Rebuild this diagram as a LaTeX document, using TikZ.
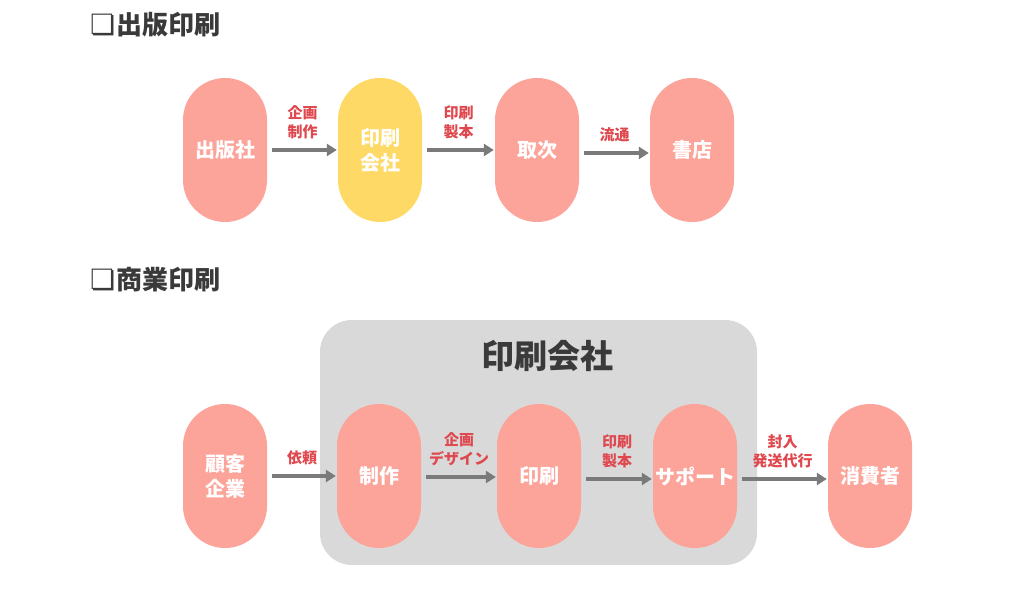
\documentclass[tikz,border=0pt]{standalone}
\usepackage{fontspec}
\setmainfont{Noto Sans CJK JP}
\newfontfamily\symfont{DejaVu Sans}
\usetikzlibrary{arrows.meta}
\definecolor{pillred}{RGB}{252,163,154}
\definecolor{pillyellow}{RGB}{255,217,102}
\definecolor{lblred}{RGB}{222,72,78}
\definecolor{arrgray}{RGB}{122,122,122}
\definecolor{boxgray}{RGB}{217,217,217}
\definecolor{headgray}{RGB}{58,58,58}
\tikzset{
  pill/.style={fill=pillred, draw=none, minimum width=84pt, minimum height=144pt,
    rounded corners=42pt, inner sep=0pt, text=white, align=center,
    font=\fontsize{20}{25}\selectfont\bfseries},
  pilly/.style={pill, fill=pillyellow},
  arr/.style={draw=arrgray, line width=3.5pt, -{Triangle[length=10pt,width=12pt]},
    shorten <=5pt, shorten >=1pt},
  lbl/.style={above=9pt, inner sep=0pt, text=lblred, align=center,
    font=\fontsize{15}{19}\selectfont\bfseries},
  heading/.style={anchor=west, inner sep=0pt, text=headgray,
    font=\fontsize{26}{30}\selectfont\bfseries},
  sym/.style={anchor=west, inner sep=0pt, text=headgray,
    font=\symfont\fontsize{28}{30}\selectfont},
}
\begin{document}
\begin{tikzpicture}[x=1pt,y=-1pt]
\useasboundingbox (0,0) rectangle (1024,593);
\fill[white] (0,0) rectangle (1024,593);

% headings
\node[sym] (s1) at (90,25) {❏};
\node[heading] (h1) at (116,25) {出版印刷};
\node[sym] (s2) at (90,280) {❏};
\node[heading] (h2) at (116,280) {商業印刷};

% top row
\node[pill]  (p1) at (225,150) {出版社};
\node[pilly] (p2) at (380,150) {印刷\\会社};
\node[pill]  (p3) at (537,150) {取次};
\node[pill]  (p4) at (692,150) {書店};
\draw[arr] (p1) -- node[lbl]{企画\\制作} (p2);
\draw[arr] (p2) -- node[lbl]{印刷\\製本} (p3);
\draw[arr] ([yshift=-3pt]p3.east) -- node[lbl]{流通} ([yshift=-3pt]p4.west);

% gray company box
\node[fill=boxgray, rounded corners=32pt, minimum width=437pt, minimum height=245pt,
  inner sep=0pt] (box) at (538.5,442.5) {};
\node[inner sep=0pt, text=headgray, font=\fontsize{33}{36}\selectfont\bfseries]
  (boxtitle) at (547,356) {印刷会社};

% bottom row
\node[pill] (q1) at (225,476) {顧客\\企業};
\node[pill] (q2) at (379,476) {制作};
\node[pill] (q3) at (539,476) {印刷};
\node[pill] (q4) at (695,476) {サポート};
\node[pill] (q5) at (870,476) {消費者};
\draw[arr] (q1) -- node[lbl]{依頼} (q2);
\draw[arr] ([yshift=-1pt]q2.east) -- node[lbl]{企画\\デザイン} ([yshift=-1pt]q3.west);
\draw[arr] ([yshift=-3pt]q3.east) -- node[lbl]{印刷\\製本} ([yshift=-3pt]q4.west);
\draw[arr] ([yshift=-3pt]q4.east) -- node[lbl]{封入\\発送代行} ([yshift=-3pt]q5.west);
\end{tikzpicture}
\end{document}
